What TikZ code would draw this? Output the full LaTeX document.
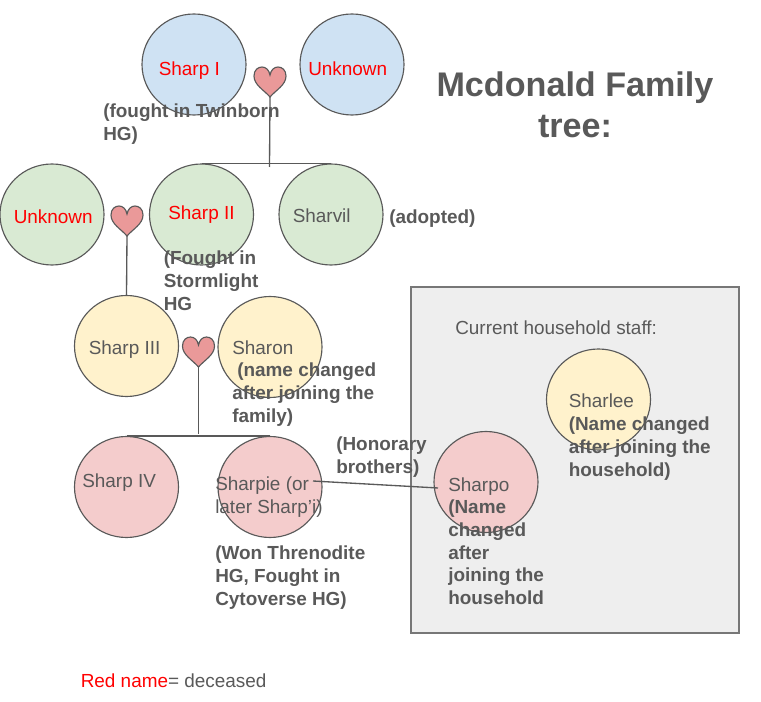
\documentclass[tikz,border=0pt]{standalone}
\usepackage{fontspec}
\setmainfont{Liberation Sans}
\usetikzlibrary{shapes.geometric}
\definecolor{inkgrey}{HTML}{595959}
\definecolor{boxgrey}{HTML}{EEEEEE}
\definecolor{framegrey}{HTML}{777777}
\definecolor{bluefill}{HTML}{CFE2F3}
\definecolor{greenfill}{HTML}{D9EAD3}
\definecolor{yellowfill}{HTML}{FFF2CC}
\definecolor{pinkfill}{HTML}{F4CCCC}
\definecolor{heartfill}{HTML}{EA9999}
\begin{document}
\begin{tikzpicture}
			[x=.75pt,y=-.75pt,
			person/.style={ellipse,draw=inkgrey,line width=.85pt,minimum width=78pt,minimum height=75.75pt,inner sep=0pt},
			txt/.style={anchor=base west,inner sep=0pt,text=inkgrey,font=\fontsize{14.2}{17}\selectfont},
			dead/.style={txt,text=red},
			note/.style={anchor=north west,inner sep=0pt,text=inkgrey,align=left,font=\fontsize{14.2}{17}\selectfont\bfseries},
			link/.style={draw=inkgrey,line width=1pt},
			heart/.pic={
				\draw[draw=inkgrey,fill=heartfill,line width=.85pt] (0,15) .. controls (-6,8) and (-16,3) .. (-16,-6) .. controls (-16,-12) and (-12,-15) .. (-8,-15) .. controls (-4,-15) and (-1,-12) .. (0,-7) .. controls (1,-12) and (4,-15) .. (8,-15) .. controls (12,-15) and (16,-12) .. (16,-6) .. controls (16,3) and (6,8) .. (0,15) -- cycle;
				\coordinate (tip) at (0,15);
			}]
			\useasboundingbox (0,0) rectangle (761,702);

			\node[draw=framegrey,fill=boxgrey,line width=1pt,minimum width=246pt,minimum height=259.5pt,inner sep=0pt] (staffbox) at (575,460) {};

			\node[person,fill=bluefill] (sharpone) at (194,64.5) {};
			\node[person,fill=bluefill] (unknownone) at (352,64.5) {};
			\node[person,fill=greenfill] (unknowntwo) at (52,214.5) {};
			\node[person,fill=greenfill] (sharptwo) at (201.5,214.5) {};
			\node[person,fill=greenfill] (sharvil) at (331,214.5) {};
			\node[person,fill=yellowfill] (sharpthree) at (126.5,346) {};
			\node[person,fill=yellowfill] (sharon) at (270,347) {};
			\node[person,fill=pinkfill] (sharpfour) at (126.5,487) {};
			\node[person,fill=pinkfill] (sharpie) at (270,487) {};
			\node[person,fill=pinkfill] (sharpo) at (486,482) {};
			\node[person,fill=yellowfill] (sharlee) at (598.5,399.5) {};

			\coordinate (stemone) at (269.5,167);
			\coordinate (stemtwo) at (198.5,434);
			\coordinate (brotherleft) at (313,481);
			\coordinate (brotherright) at (438,488);

			\pic (heartone) at (270,82) {heart};
			\pic (hearttwo) at (127,221) {heart};
			\pic (heartthree) at (198.5,352) {heart};

			\foreach \from/\to in {heartonetip/stemone,sharptwo.north/sharvil.north,hearttwotip/sharpthree.north,heartthreetip/stemtwo,sharpfour.north/sharpie.north,brotherleft/brotherright}
			\draw[link] (\from) to (\to);

			\node[dead] (nameone) at (158.5,76) {Sharp I};
			\node[dead] (nameunknownone) at (308,76) {Unknown};
			\node[dead] (nameunknowntwo) at (13.5,224) {Unknown};
			\node[dead] (nametwo) at (168,220) {Sharp II};
			\node[txt] (namesharvil) at (292.5,223) {Sharvil};
			\node[txt] (namethree) at (88.5,355) {Sharp III};
			\node[txt] (namesharon) at (232,355) {Sharon};
			\node[txt] (namefour) at (82,488) {Sharp IV};
			\node[txt,align=left,anchor=north west] (namesharpie) at (215,476.5) {Sharpie (or\\later Sharp'i)};
			\node[txt] (namesharpo) at (448,491) {Sharpo};
			\node[txt] (namesharlee) at (568.5,408) {Sharlee};
			\node[txt] (stafftitle) at (455,335) {Current household staff:};

			\node[note] (notetwinborn) at (103,104) {(fought in Twinborn\\HG)};
			\node[note] (noteadopted) at (389,210) {(adopted)};
			\node[note] (notestormlight) at (163.5,251) {(Fought in\\Stormlight\\HG};
			\node[note] (notesharon) at (232,363) {\hspace*{3.75pt}(name changed\\after joining the\\family)};
			\node[note] (notehonorary) at (336,437) {(Honorary\\brothers)};
			\node[note] (notewon) at (215,546) {(Won Threnodite\\HG, Fought in\\Cytoverse HG)};
			\node[note] (notesharpo) at (448,500) {(Name\\changed\\after\\joining the\\household};
			\node[note] (notesharlee) at (568.5,417) {(Name changed\\after joining the\\household)};

			\node[anchor=base,inner sep=0pt,text=inkgrey,align=center,font=\fontsize{25.6}{30.75}\selectfont\bfseries] (familytitle) at (575,138) {Mcdonald Family\\tree:};
			\node[txt] (legend) at (80.5,687) {\textcolor{red}{Red name}= deceased};
\end{tikzpicture}
\end{document}
